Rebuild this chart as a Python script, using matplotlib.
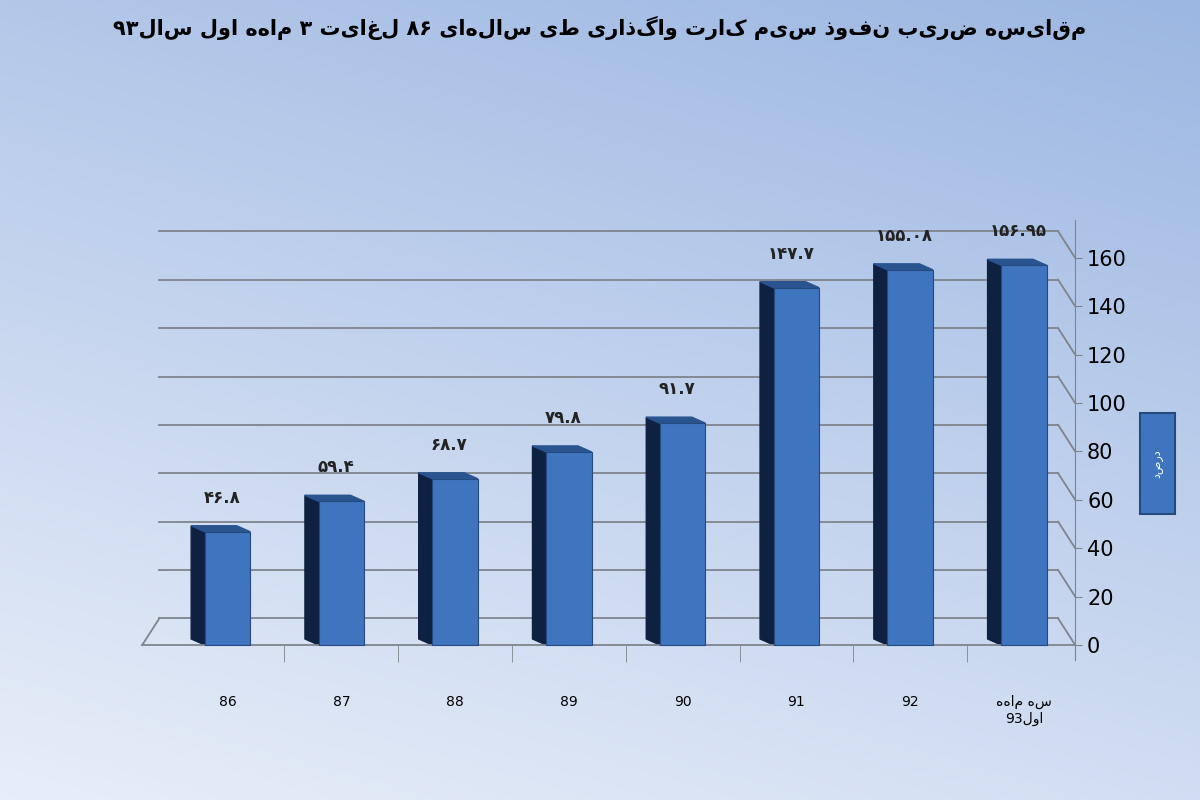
import re
import numpy as np
import matplotlib.pyplot as plt
from matplotlib.patches import Polygon, Rectangle

# Data
categories = ['86', '87', '88', '89', '90', '91', '92', 'سه ماهه\nاول93']
values = [46.8, 59.4, 68.7, 79.8, 91.7, 147.7, 155.08, 156.95]
value_labels = ['۴۶.۸', '۵۹.۴', '۶۸.۷', '۷۹.۸', '۹۱.۷', '۱۴۷.۷', '۱۵۵.۰۸', '۱۵۶.۹۵']
title = 'مقایسه ضریب نفوذ سیم کارت واگذاری طی سالهای ۸۶ لغایت ۳ ماهه اول سال۹۳'
legend_label = 'درصد'


def rtl(s):
    # simple visual ordering for right-to-left text (no shaping)
    lines = []
    for line in s.split('\n'):
        runs = re.findall(r'[0-9۰-۹.]+|[^0-9۰-۹.]+', line)
        runs = [r if re.fullmatch(r'[0-9۰-۹.]+', r) else r[::-1] for r in runs]
        lines.append(''.join(runs[::-1]))
    return '\n'.join(lines)


fig = plt.figure(figsize=(12, 8), dpi=100)

# background gradient
bg = fig.add_axes([0, 0, 1, 1], zorder=-10)
g = np.linspace(0, 1, 256)
grad = np.outer(np.ones(256), g) * 0.3 + np.outer(g[::-1], np.ones(256)) * 0.7
bg.imshow(grad, aspect='auto', cmap=plt.matplotlib.colors.LinearSegmentedColormap.from_list(
    'b', ['#e8eef9', '#9cb7e2']), extent=[0, 1, 0, 1])
bg.axis('off')

ax = fig.add_axes([0.11, 0.175, 0.786, 0.55])
ax.patch.set_alpha(0)
x = np.arange(len(values))
w = 0.4
dx, dy = 0.12, 2.5
gy = 11  # back-wall offset

# back wall grid lines
for v in range(0, 161, 20):
    ax.plot([-0.6, 7.3], [v + gy, v + gy], color='#7f848c', lw=1.3, zorder=1)
    ax.plot([7.3, 7.45], [v + gy, v], color='#7f848c', lw=1.3, zorder=1)
ax.plot([-0.6, -0.75], [gy, 0], color='#7f848c', lw=1.3, zorder=1)

ax.bar(x, values, width=w, color='#3f74bf', edgecolor='#244a80', lw=0.8, zorder=3)
for xi, v, lab in zip(x, values, value_labels):
    x0, x1 = xi - w / 2, xi + w / 2
    ax.add_patch(Polygon([(x0, 0), (x0, v), (x0 - dx, v + dy), (x0 - dx, dy)],
                         closed=True, color='#0f2140', zorder=2))
    ax.add_patch(Polygon([(x0, v), (x1, v), (x1 - dx, v + dy), (x0 - dx, v + dy)],
                         closed=True, color='#2a5490', zorder=2))
    ax.text(xi - 0.05, v + 14, lab, ha='center', va='center', fontsize=12,
            fontweight='bold', color='#222222', family=['DejaVu Sans'])

ax.set_xlim(-0.84, 7.45)
ax.set_ylim(-6.2, 175.7)
ax.yaxis.tick_right()
ax.set_yticks(range(0, 161, 20))
ax.tick_params(axis='y', labelsize=15, length=5, color='#7f848c')
ax.set_xticks(x)
ax.set_xticklabels([rtl(c) if not c.isdigit() else c for c in categories], fontsize=15)
ax.set_xticks(x[:-1] + 0.5, minor=True)
ax.tick_params(axis='x', which='major', length=0, pad=36)
ax.tick_params(axis='x', which='minor', length=12, color='#7f848c')
ax.get_xticklabels()[-1].set_fontsize(12)
for s in ['top', 'left']:
    ax.spines[s].set_visible(False)
ax.spines['bottom'].set_position(('data', 0))
ax.spines['bottom'].set_color('#7f848c')
ax.spines['bottom'].set_linewidth(1.3)
ax.spines['right'].set_color('#7f848c')
ax.spines['bottom'].set_bounds(-0.75, 7.45)

fig.text(0.5, 0.965, rtl(title), ha='center', va='center', fontsize=15,
         fontweight='bold', family=['DejaVu Sans'])

# legend box
fig.patches.append(Rectangle((0.95, 0.357), 0.029, 0.127, transform=fig.transFigure,
                             facecolor='#3f74bf', edgecolor='#244a80', lw=1.5))
fig.text(0.9645, 0.42, rtl(legend_label), rotation=90, ha='center', va='center',
         fontsize=8, color='white')

plt.savefig('out.png', dpi=100)
